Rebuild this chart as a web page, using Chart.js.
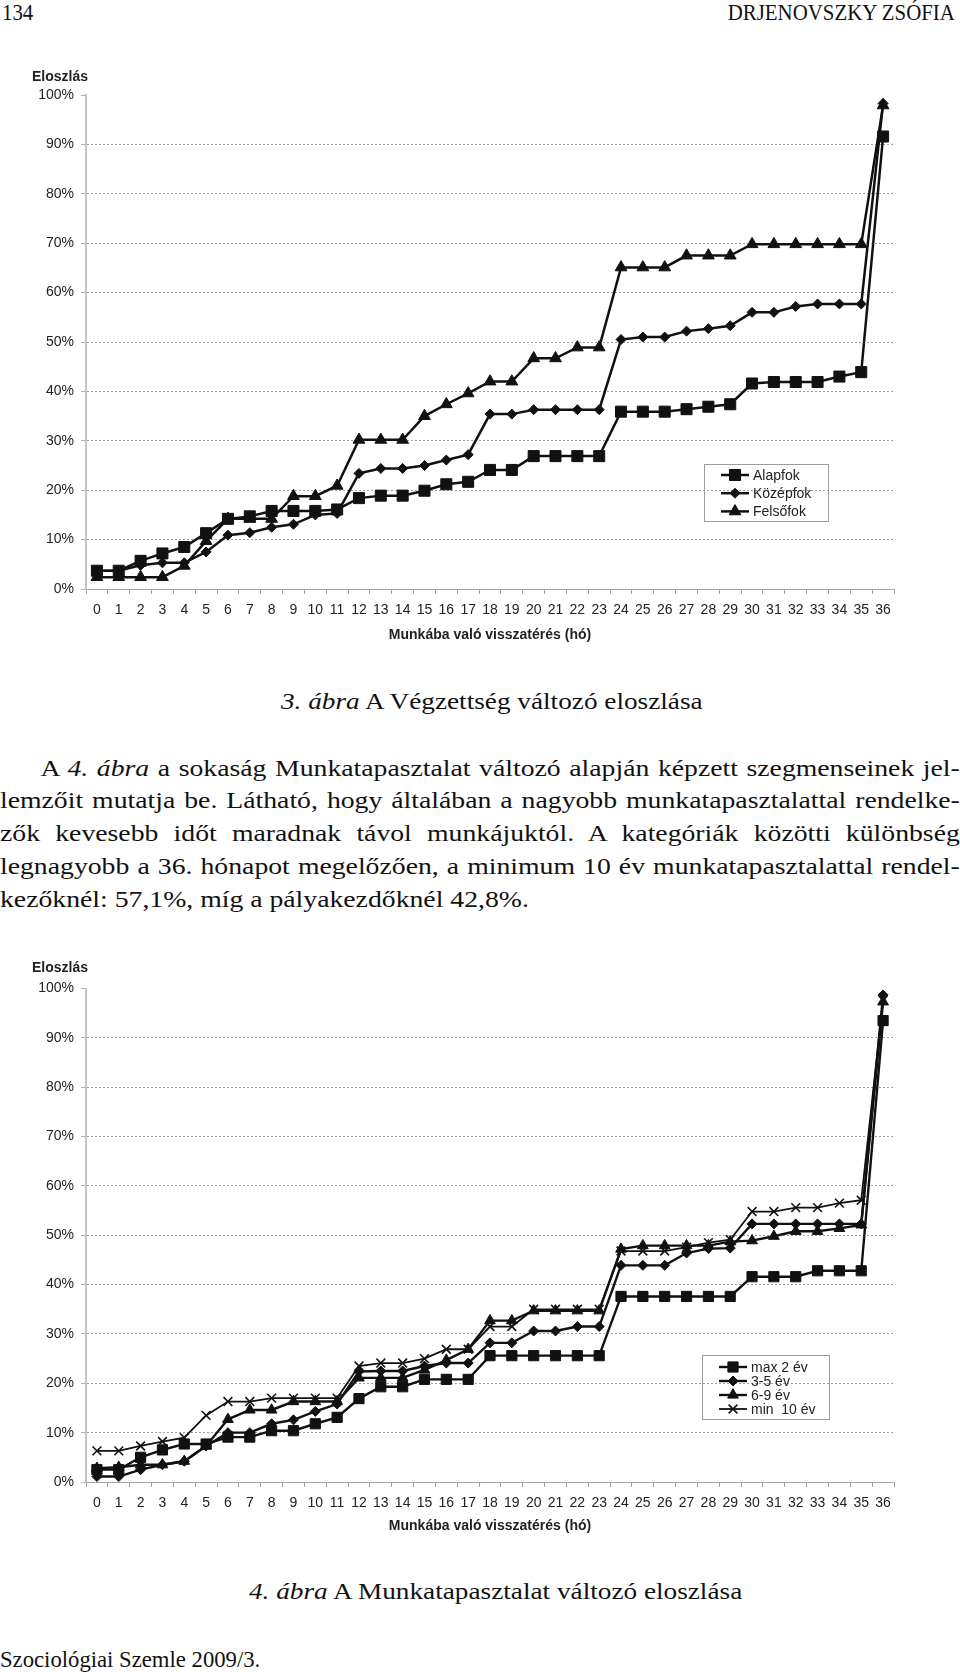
<!DOCTYPE html>
<html>
<head>
<meta charset="utf-8">
<script src="https://cdn.jsdelivr.net/npm/chart.js@4.4.0/dist/chart.umd.min.js"></script>
<style>
body { margin:0; width:960px; height:1672px; position:relative; background:#fff; color:#111; font-family:'Liberation Serif', 'Times New Roman', serif; overflow:hidden; }
.abs { position:absolute; white-space:nowrap; }
.hdr { font-size:22.7px; line-height:26px; transform:scaleX(0.92); }
.cap { font-size:24px; line-height:28px; transform:scaleX(1.135); transform-origin:0 0; }
.para { position:absolute; left:0; top:751.6px; width:831px; font-size:24px; line-height:32.8px; transform:scaleX(1.155); transform-origin:0 0; }
.para div { text-align:justify; text-align-last:justify; }
.para div.last { text-align-last:left; }
canvas { position:absolute; left:0; }
</style>
</head>
<body>
<div class="abs hdr" style="left:2px;top:0;transform-origin:0 0">134</div>
<div class="abs hdr" style="right:5px;top:0;transform-origin:100% 0">DRJENOVSZKY ZSÓFIA</div>

<canvas id="chart1" width="960" height="600" style="top:60px"></canvas>

<div class="abs cap" style="left:281px;top:687px"><i>3. ábra</i> A Végzettség változó eloszlása</div>

<div class="para">
  <div style="text-indent:35px">A <i>4. ábra</i> a sokaság Munkatapasztalat változó alapján képzett szegmenseinek jel-</div>
  <div>lemzőit mutatja be. Látható, hogy általában a nagyobb munkatapasztalattal rendelke-</div>
  <div>zők kevesebb időt maradnak távol munkájuktól. A kategóriák közötti különbség</div>
  <div>legnagyobb a 36. hónapot megelőzően, a minimum 10 év munkatapasztalattal rendel-</div>
  <div class="last">kezőknél: 57,1%, míg a pályakezdőknél 42,8%.</div>
</div>

<canvas id="chart2" width="960" height="600" style="top:953px"></canvas>

<div class="abs cap" style="left:249px;top:1577px"><i>4. ábra</i> A Munkatapasztalat változó eloszlása</div>
<div class="abs" style="left:0;top:1646px;font-size:22.7px;line-height:27px">Szociológiai Szemle 2009/3.</div>

<script>
const months = ['0','1','2','3','4','5','6','7','8','9','10','11','12','13','14','15','16','17','18',
    '19','20','21','22','23','24','25','26','27','28','29','30','31','32','33','34','35','36']
const yTicks = [0, 10, 20, 30, 40, 50, 60, 70, 80, 90, 100]

// 3. ábra
const alapfok = [3.7, 3.7, 5.7, 7.2, 8.5, 11.3, 14.2, 14.7, 15.8, 15.8, 15.8, 16.1, 18.4, 18.9, 18.9, 19.9, 21.2, 21.7, 24.1,
    24.1, 26.9, 26.9, 26.9, 26.9, 35.9, 35.9, 35.9, 36.4, 36.9, 37.4, 41.6, 41.9, 41.9, 41.9, 43.0, 43.9, 91.6]
const kozepfok = [3.7, 3.7, 4.8, 5.3, 5.3, 7.5, 10.9, 11.4, 12.5, 13.1, 15.0, 15.3, 23.4, 24.4, 24.4, 25.0, 26.1, 27.2, 35.4,
    35.4, 36.3, 36.3, 36.3, 36.3, 50.5, 51.0, 51.0, 52.2, 52.7, 53.3, 56.0, 56.0, 57.2, 57.7, 57.7, 57.7, 98.3]
const felsofok = [2.4, 2.4, 2.4, 2.4, 4.7, 9.7, 14.2, 14.2, 14.2, 18.8, 18.8, 20.9, 30.2, 30.2, 30.2, 35.0, 37.4, 39.6, 42.0,
    42.0, 46.7, 46.7, 48.9, 48.9, 65.1, 65.1, 65.1, 67.5, 67.5, 67.5, 69.8, 69.8, 69.8, 69.8, 69.8, 69.8, 97.9]

// 4. ábra
const max2 = [2.5, 2.5, 5.0, 6.5, 7.7, 7.7, 9.1, 9.1, 10.4, 10.4, 11.8, 13.1, 16.9, 19.3, 19.3, 20.8, 20.8, 20.8, 25.6,
    25.6, 25.6, 25.6, 25.6, 25.6, 37.6, 37.6, 37.6, 37.6, 37.6, 37.6, 41.6, 41.6, 41.6, 42.8, 42.8, 42.8, 93.5]
const ev35 = [1.1, 1.1, 2.5, 3.5, 4.2, 7.3, 10.0, 10.0, 11.8, 12.6, 14.3, 15.8, 22.4, 22.5, 22.5, 23.5, 24.1, 24.1, 28.2,
    28.2, 30.6, 30.6, 31.5, 31.5, 43.9, 43.9, 43.9, 46.4, 47.3, 47.4, 52.3, 52.3, 52.3, 52.3, 52.3, 52.3, 98.7]
const ev69 = [2.8, 3.0, 3.5, 3.5, 4.2, 7.3, 12.7, 14.6, 14.6, 16.3, 16.3, 16.3, 21.1, 21.1, 21.1, 22.7, 24.7, 26.9, 32.7,
    32.7, 34.7, 34.7, 34.7, 34.7, 47.2, 47.9, 47.9, 47.9, 47.9, 48.7, 48.9, 49.8, 50.8, 50.8, 51.4, 52.1, 97.3]
const min10 = [6.3, 6.3, 7.3, 8.2, 9.0, 13.5, 16.3, 16.3, 17.0, 17.0, 17.0, 17.0, 23.5, 24.1, 24.1, 25.0, 26.9, 26.9, 31.5,
    31.5, 35.0, 35.0, 35.0, 35.0, 46.8, 46.8, 46.8, 47.6, 48.5, 49.1, 54.8, 54.8, 55.6, 55.6, 56.5, 57.1, 97.6]

const ink = '#111'
const sans = '"Liberation Sans", Arial, sans-serif'

function series(label, data, style, radius, width){
    return {
        label: label,
        data: data,
        borderColor: ink,
        borderWidth: width,
        pointStyle: style,
        pointRadius: radius,
        pointHoverRadius: radius,
        pointBackgroundColor: ink,
        pointBorderColor: ink,
        pointBorderWidth: style === 'crossRot' ? 1.6 : 1,
        tension: 0,
        fill: false
    }
}

const boxLegend = {
    id: 'boxLegend',
    afterDraw(chart, args, opts){
        const ctx = chart.ctx
        ctx.save()
        ctx.font = 'bold 14px ' + sans
        ctx.fillStyle = '#222'
        ctx.textBaseline = 'middle'
        ctx.textAlign = 'left'
        ctx.fillText('Eloszlás', 32, opts.titleY)

        ctx.strokeStyle = '#9c9c9c'
        ctx.lineWidth = 1
        ctx.strokeRect(opts.x + 0.5, opts.y + 0.5, opts.w, opts.h)
        ctx.font = '14px ' + sans
        chart.data.datasets.forEach((ds, i) => {
            let y = opts.rowY + i * opts.rowH
            ctx.strokeStyle = ink
            ctx.lineWidth = ds.borderWidth
            ctx.beginPath()
            ctx.moveTo(opts.x + 17, y)
            ctx.lineTo(opts.x + 45, y)
            ctx.stroke()
            ctx.fillStyle = ink
            ctx.lineWidth = ds.pointBorderWidth
            Chart.helpers.drawPoint(ctx, {pointStyle: ds.pointStyle, radius: ds.pointRadius, rotation: 0, borderWidth: ds.pointBorderWidth}, opts.x + 31, y)
            ctx.fillStyle = '#222'
            ctx.fillText(ds.label, opts.x + 49, y + 1)
        })
        ctx.restore()
    }
}

function makeChart(id, datasets, padTop, titlePad, legend){
    return new Chart(document.getElementById(id), {
        type: 'line',
        data: { labels: months, datasets: datasets },
        options: {
            responsive: false,
            maintainAspectRatio: false,
            animation: false,
            layout: { padding: { top: padTop, right: 66, bottom: 0, left: 0 } },
            plugins: {
                legend: { display: false },
                tooltip: { enabled: false },
                boxLegend: legend
            },
            scales: {
                x: {
                    offset: true,
                    afterFit: scale => { scale.height = 71 },
                    grid: { display: true, offset: true, drawOnChartArea: false, tickLength: 5, tickColor: '#a0a0a0' },
                    border: { color: '#a8a8a8', width: 1 },
                    ticks: { color: '#222', padding: 7.5, maxRotation: 0, autoSkip: false, font: { family: sans, size: 14 } },
                    title: { display: true, text: 'Munkába való visszatérés (hó)', color: '#222',
                        font: { family: sans, size: 14, weight: 'bold' }, padding: { top: 0, bottom: titlePad } }
                },
                y: {
                    min: 0,
                    max: 100,
                    afterFit: scale => { scale.width = 86 },
                    afterBuildTicks: scale => { scale.ticks = yTicks.map(v => ({ value: v })) },
                    grid: {
                        color: c => (c.tick && c.tick.value === 100) ? 'rgba(0,0,0,0)' : '#a0a0a0',
                        lineWidth: 1,
                        tickLength: 5,
                        tickColor: '#b0b0b0'
                    },
                    border: { color: '#c4c4c4', width: 2, dash: [2, 2] },
                    ticks: { color: '#222', padding: 7, font: { family: sans, size: 14 }, callback: v => v + '%' }
                }
            }
        },
        plugins: [boxLegend]
    })
}

makeChart('chart1', [
    series('Alapfok', alapfok, 'rect', 7.8, 2.5),
    series('Középfok', kozepfok, 'rectRot', 5, 2.5),
    series('Felsőfok', felsofok, 'triangle', 6.8, 2.5)
], 35, 16, { titleY: 17, x: 704, y: 404, w: 124, h: 57, rowY: 415, rowH: 18.2 })

makeChart('chart2', [
    series('max 2 év', max2, 'rect', 7.2, 2.4),
    series('3-5 év', ev35, 'rectRot', 5, 2.4),
    series('6-9 év', ev69, 'triangle', 6.2, 2.4),
    series('min  10 év', min10, 'crossRot', 6.2, 1.8)
], 35.5, 18.2, { titleY: 14.7, x: 702, y: 402, w: 127, h: 64, rowY: 414, rowH: 14 })
</script>
</body>
</html>
